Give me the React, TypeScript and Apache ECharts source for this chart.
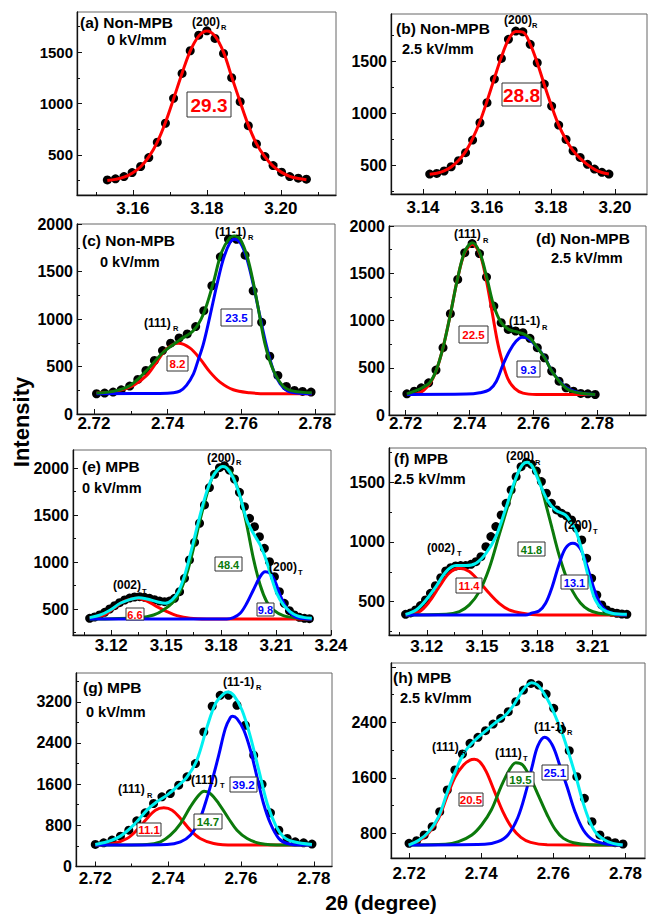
import React, { useEffect, useRef } from "react";
import * as echarts from "echarts";

const FONT = '"Liberation Sans", Arial, Helvetica, sans-serif';
const RED = "#ff0000";
const BLUE = "#0000ff";
const GREEN = "#0b7a0b";
const CYAN = "#00f0f0";

// ---------------- (a) Non-MPB 0 kV/mm ----------------
const aDotX = [3.1531, 3.1553, 3.1576, 3.1598, 3.1621, 3.1643, 3.1666, 3.1688, 3.171, 3.1733, 3.1755, 3.1778, 3.18, 3.1822, 3.1845, 3.1867, 3.189, 3.1912, 3.1934, 3.1957, 3.1979, 3.2002, 3.2024, 3.2047, 3.2069];
const aDotY = [257, 267, 289, 328, 387, 474, 623, 808, 1050, 1293, 1513, 1665, 1707, 1633, 1487, 1251, 1018, 784, 607, 484, 396, 332, 289, 274, 264];
const aFitY = [250, 262, 283, 322, 385, 480, 625, 815, 1045, 1295, 1510, 1655, 1705, 1655, 1500, 1260, 1015, 790, 610, 480, 390, 330, 292, 270, 258];

// ---------------- (b) Non-MPB 2.5 kV/mm ----------------
const bDotX = [3.1421, 3.1443, 3.1466, 3.1488, 3.1511, 3.1533, 3.1555, 3.1578, 3.16, 3.1623, 3.1645, 3.1667, 3.169, 3.1712, 3.1735, 3.1757, 3.1779, 3.1802, 3.1824, 3.1847, 3.1869, 3.1891, 3.1914, 3.1936, 3.1959, 3.1981];
const bDotY = [420, 426, 449, 490, 548, 625, 747, 913, 1106, 1333, 1532, 1715, 1795, 1788, 1667, 1490, 1285, 1074, 891, 753, 644, 580, 513, 468, 436, 420];
const bFitY = [418, 428, 450, 488, 550, 635, 760, 925, 1120, 1340, 1545, 1712, 1790, 1785, 1670, 1490, 1280, 1070, 890, 750, 645, 570, 510, 465, 435, 420];

// ---------------- (c) Non-MPB 0 kV/mm ----------------
const cDotX = [2.7207, 2.7229, 2.7252, 2.7274, 2.7297, 2.7319, 2.7341, 2.7364, 2.7386, 2.7408, 2.7431, 2.7453, 2.7476, 2.7498, 2.752, 2.7543, 2.7565, 2.7587, 2.761, 2.7632, 2.7655, 2.7677, 2.7699, 2.7722, 2.7744, 2.7766, 2.7789];
const cDotY = [213, 220, 231, 255, 294, 364, 458, 563, 668, 745, 801, 843, 920, 1088, 1350, 1654, 1839, 1839, 1672, 1297, 965, 608, 406, 290, 248, 238, 231];
const cRedX = [2.7207, 2.7262, 2.7307, 2.7343, 2.737, 2.7397, 2.7429, 2.746, 2.7488, 2.7515, 2.7542, 2.7578, 2.7623, 2.7669, 2.7791];
const cRedY = [220, 241, 301, 406, 546, 685, 745, 696, 580, 441, 336, 255, 224, 213, 213];
const cBlueX = [2.7207, 2.7379, 2.7415, 2.7433, 2.7451, 2.747, 2.7481, 2.7497, 2.7515, 2.7533, 2.7551, 2.7569, 2.7581, 2.7597, 2.7614, 2.7632, 2.765, 2.7669, 2.7687, 2.7705, 2.7723, 2.775, 2.7791];
const cBlueY = [213, 217, 224, 241, 301, 423, 546, 738, 1035, 1350, 1630, 1804, 1839, 1804, 1647, 1367, 1035, 703, 458, 318, 248, 220, 213];
const cGreenX = [2.7207, 2.7252, 2.7298, 2.7343, 2.7388, 2.7433, 2.747, 2.7497, 2.7524, 2.7546, 2.7569, 2.7581, 2.7597, 2.7619, 2.7642, 2.7664, 2.7687, 2.7714, 2.7741, 2.7791];
const cGreenY = [220, 238, 301, 458, 650, 780, 878, 1053, 1385, 1700, 1857, 1874, 1839, 1612, 1192, 738, 458, 290, 241, 224];

// ---------------- (d) Non-MPB 2.5 kV/mm ----------------
const dDotX = [2.7204, 2.7227, 2.7249, 2.7272, 2.7295, 2.7317, 2.734, 2.7363, 2.7385, 2.7408, 2.7431, 2.7453, 2.7476, 2.7499, 2.7521, 2.7544, 2.7567, 2.7589, 2.7612, 2.7634, 2.7657, 2.768, 2.7702, 2.7725, 2.7748, 2.777, 2.7793];
const dDotY = [224, 252, 288, 341, 475, 712, 1072, 1435, 1718, 1814, 1708, 1460, 1153, 977, 906, 889, 871, 811, 712, 606, 465, 358, 288, 252, 228, 224, 217];
const dRedX = [2.7204, 2.7244, 2.7275, 2.7296, 2.7317, 2.734, 2.7362, 2.7385, 2.7409, 2.7432, 2.7452, 2.7471, 2.7489, 2.7505, 2.752, 2.7541, 2.7567, 2.7609, 2.7793];
const dRedY = [217, 235, 330, 471, 712, 1065, 1435, 1718, 1806, 1708, 1435, 1082, 747, 535, 383, 281, 231, 217, 217];
const dBlueX = [2.7204, 2.739, 2.7432, 2.7463, 2.7484, 2.7505, 2.7525, 2.7546, 2.7564, 2.7583, 2.7612, 2.7636, 2.7657, 2.7682, 2.7703, 2.7726, 2.7755, 2.7793];
const dBlueY = [217, 221, 235, 270, 358, 535, 678, 782, 824, 811, 712, 606, 465, 358, 288, 252, 228, 217];
const dGreenX = [2.7204, 2.7228, 2.7252, 2.7275, 2.7296, 2.7317, 2.734, 2.7362, 2.7385, 2.7409, 2.7432, 2.7454, 2.7476, 2.7499, 2.7522, 2.7546, 2.7567, 2.759, 2.7612, 2.7636, 2.7657, 2.7682, 2.7703, 2.7726, 2.7755, 2.7793];
const dGreenY = [224, 252, 288, 341, 475, 712, 1065, 1435, 1729, 1824, 1718, 1453, 1153, 977, 906, 881, 860, 811, 712, 600, 465, 351, 281, 245, 228, 217];

// ---------------- (e) MPB 0 kV/mm ----------------
const eDotX = [3.1082, 3.1109, 3.1136, 3.1164, 3.1191, 3.1218, 3.1245, 3.1273, 3.13, 3.1327, 3.1355, 3.1382, 3.1409, 3.1436, 3.1464, 3.1491, 3.1518, 3.1545, 3.1573, 3.16, 3.1627, 3.1655, 3.1682, 3.1709, 3.1736, 3.1764, 3.1791, 3.1818, 3.1845, 3.1873, 3.19, 3.1927, 3.1955, 3.1982, 3.2009, 3.2036, 3.2064, 3.2091, 3.2118, 3.2145, 3.2173, 3.22, 3.2227, 3.2255, 3.2282];
const eDotY = [401, 415, 436, 465, 500, 536, 568, 596, 617, 628, 632, 625, 614, 600, 585, 578, 585, 614, 685, 827, 1023, 1211, 1414, 1609, 1794, 1936, 2007, 2028, 1982, 1886, 1744, 1591, 1467, 1378, 1271, 1147, 1005, 845, 685, 561, 482, 436, 411, 401, 397];
const eCyanX = [3.1082, 3.114, 3.1195, 3.1249, 3.1304, 3.1349, 3.1395, 3.1449, 3.1495, 3.1531, 3.1567, 3.1604, 3.164, 3.1676, 3.1713, 3.1749, 3.1785, 3.1809, 3.1831, 3.1867, 3.1904, 3.194, 3.1976, 3.2013, 3.2049, 3.2076, 3.2104, 3.214, 3.2176, 3.2213, 3.2249, 3.2295];
const eCyanY = [408, 436, 490, 561, 603, 621, 607, 578, 561, 596, 685, 880, 1147, 1431, 1698, 1893, 1993, 2018, 2000, 1893, 1698, 1449, 1307, 1183, 1005, 827, 667, 543, 472, 429, 411, 401];
const eRedX = [3.1082, 3.1158, 3.1213, 3.1267, 3.134, 3.1395, 3.1449, 3.1504, 3.1558, 3.1631, 3.1722, 3.2295];
const eRedY = [401, 436, 507, 578, 614, 585, 525, 472, 429, 401, 394, 394];
const eGreenX = [3.1082, 3.1358, 3.1431, 3.1485, 3.154, 3.1576, 3.1613, 3.1649, 3.1685, 3.1722, 3.1758, 3.1795, 3.1809, 3.184, 3.1867, 3.1904, 3.194, 3.1976, 3.2013, 3.2049, 3.2085, 3.214, 3.2231, 3.2295];
const eGreenY = [394, 408, 436, 490, 578, 685, 880, 1147, 1449, 1723, 1929, 2011, 2018, 1993, 1911, 1698, 1396, 1040, 756, 578, 490, 429, 401, 394];
const eBlueX = [3.1082, 3.1831, 3.1867, 3.1904, 3.194, 3.1976, 3.2013, 3.204, 3.2067, 3.2095, 3.2122, 3.2158, 3.2195, 3.2231, 3.2295];
const eBlueY = [394, 394, 408, 454, 561, 703, 845, 898, 880, 791, 649, 507, 429, 401, 394];

// ---------------- (f) MPB 2.5 kV/mm ----------------
const fDotX = [3.1085, 3.1112, 3.1139, 3.1166, 3.1193, 3.122, 3.1247, 3.1276, 3.1303, 3.133, 3.1357, 3.1384, 3.1411, 3.144, 3.1467, 3.1494, 3.1521, 3.1548, 3.1575, 3.1604, 3.1631, 3.1658, 3.1685, 3.1712, 3.1741, 3.1768, 3.1795, 3.1822, 3.1849, 3.1876, 3.1905, 3.1932, 3.1959, 3.1986, 3.2013, 3.2041, 3.2068, 3.2095, 3.2123, 3.215, 3.2177, 3.2205, 3.2232, 3.2259, 3.2286];
const fDotY = [394, 406, 431, 467, 514, 570, 634, 701, 757, 785, 799, 802, 802, 813, 835, 877, 961, 1045, 1129, 1226, 1324, 1436, 1547, 1631, 1668, 1651, 1595, 1506, 1408, 1324, 1268, 1240, 1218, 1184, 1115, 1017, 863, 696, 556, 473, 431, 411, 403, 397, 394];
const fCyanX = [3.1085, 3.1142, 3.1196, 3.125, 3.1305, 3.1359, 3.1413, 3.1467, 3.1521, 3.1575, 3.1629, 3.1683, 3.1719, 3.1746, 3.1773, 3.1809, 3.1854, 3.1899, 3.1953, 3.198, 3.2007, 3.2034, 3.2061, 3.2088, 3.2115, 3.2151, 3.2205, 3.2286];
const fCyanY = [394, 431, 514, 626, 752, 802, 802, 822, 905, 1045, 1282, 1534, 1645, 1668, 1631, 1506, 1352, 1268, 1226, 1171, 1101, 975, 808, 640, 514, 439, 403, 394];
const fRedX = [3.1085, 3.116, 3.1214, 3.1268, 3.1322, 3.1377, 3.1431, 3.1485, 3.1539, 3.1593, 3.1647, 3.1719, 3.1809, 3.2286];
const fRedY = [389, 417, 500, 626, 738, 779, 752, 668, 570, 486, 431, 403, 389, 389];
const fGreenX = [3.1085, 3.1305, 3.1377, 3.1431, 3.1485, 3.1539, 3.1593, 3.1647, 3.1692, 3.1719, 3.1741, 3.1773, 3.1809, 3.1845, 3.1881, 3.1917, 3.1953, 3.1989, 3.2034, 3.2079, 3.2133, 3.2205, 3.2286];
const fGreenY = [389, 394, 417, 473, 584, 780, 1059, 1338, 1561, 1645, 1668, 1640, 1528, 1324, 1109, 897, 724, 595, 489, 431, 403, 394, 389];
const fBlueX = [3.1085, 3.1737, 3.1773, 3.1809, 3.1845, 3.1881, 3.1917, 3.1953, 3.1993, 3.2032, 3.2068, 3.2104, 3.214, 3.2177, 3.2223, 3.2286];
const fBlueY = [389, 389, 406, 422, 487, 626, 808, 947, 989, 947, 808, 626, 487, 422, 397, 389];

// ---------------- (g) MPB 0 kV/mm ----------------
const gDotX = [2.72, 2.7223, 2.7246, 2.7269, 2.7292, 2.7314, 2.7337, 2.736, 2.7383, 2.7406, 2.7429, 2.7452, 2.7475, 2.7498, 2.7521, 2.7543, 2.7566, 2.7589, 2.7612, 2.7635, 2.7658, 2.7681, 2.7704, 2.7727, 2.7749, 2.7772, 2.7795];
const gDotY = [428, 461, 513, 590, 706, 887, 1043, 1224, 1353, 1418, 1580, 1742, 2001, 2615, 3114, 3327, 3327, 3133, 2745, 2163, 1600, 1043, 706, 545, 480, 461, 435];
const gCyanX = [2.72, 2.7232, 2.7269, 2.7305, 2.7342, 2.7369, 2.7397, 2.7424, 2.7452, 2.7479, 2.7507, 2.753, 2.7553, 2.7564, 2.758, 2.7603, 2.7626, 2.7649, 2.7672, 2.7695, 2.7717, 2.7745, 2.7795];
const gCyanY = [428, 480, 590, 803, 1095, 1257, 1386, 1548, 1742, 2066, 2713, 3166, 3360, 3392, 3327, 3036, 2518, 1871, 1224, 803, 577, 480, 428];
const gRedX = [2.72, 2.725, 2.7287, 2.7314, 2.7342, 2.7365, 2.7388, 2.7411, 2.7434, 2.7461, 2.7488, 2.7525, 2.758, 2.7795];
const gRedY = [416, 447, 544, 706, 933, 1095, 1140, 1095, 933, 706, 544, 447, 416, 416];
const gGreenX = [2.72, 2.7342, 2.7379, 2.7406, 2.7434, 2.7461, 2.7484, 2.7499, 2.7516, 2.7539, 2.7566, 2.7589, 2.7617, 2.7653, 2.7717, 2.7795];
const gGreenY = [416, 428, 480, 609, 835, 1159, 1386, 1463, 1418, 1224, 933, 706, 544, 447, 416, 416];
const gBlueX = [2.72, 2.7397, 2.7434, 2.7461, 2.7484, 2.7502, 2.7521, 2.7539, 2.7557, 2.7571, 2.7577, 2.7589, 2.7608, 2.7626, 2.7644, 2.7662, 2.7681, 2.7704, 2.7727, 2.7763, 2.7795];
const gBlueY = [416, 428, 480, 609, 868, 1224, 1677, 2163, 2680, 2894, 2919, 2874, 2648, 2260, 1742, 1224, 836, 544, 447, 416, 416];

// ---------------- (h) MPB 2.5 kV/mm ----------------
const hDotX = [2.72, 2.7221, 2.7242, 2.7264, 2.7285, 2.7306, 2.7327, 2.7348, 2.7369, 2.7391, 2.7412, 2.7433, 2.7454, 2.7475, 2.7496, 2.7517, 2.7538, 2.7559, 2.758, 2.7601, 2.7623, 2.7644, 2.7665, 2.7686, 2.7707, 2.7729, 2.775, 2.7771, 2.7793];
const hDotY = [655, 694, 776, 896, 1112, 1424, 1713, 1943, 2097, 2183, 2279, 2375, 2457, 2553, 2697, 2865, 2961, 2937, 2807, 2601, 2299, 1991, 1616, 1304, 968, 776, 694, 665, 646];
const hCyanX = [2.7199, 2.7228, 2.7255, 2.7282, 2.7305, 2.7328, 2.7355, 2.7383, 2.741, 2.7437, 2.7465, 2.7487, 2.751, 2.7528, 2.754, 2.7556, 2.7574, 2.7592, 2.761, 2.7628, 2.7647, 2.7665, 2.7683, 2.7701, 2.7719, 2.7742, 2.7765, 2.7792];
const hCyanY = [631, 703, 824, 1040, 1376, 1689, 1977, 2145, 2265, 2385, 2491, 2625, 2818, 2938, 2971, 2938, 2818, 2649, 2433, 2193, 1881, 1569, 1232, 968, 800, 704, 655, 631];
const hRedX = [2.7199, 2.7228, 2.7255, 2.7282, 2.7305, 2.7328, 2.7351, 2.7369, 2.7381, 2.7396, 2.7414, 2.7437, 2.746, 2.7483, 2.751, 2.7537, 2.7583, 2.7792];
const hRedY = [631, 694, 809, 1016, 1328, 1616, 1784, 1856, 1866, 1832, 1688, 1400, 1112, 896, 742, 670, 636, 631];
const hGreenX = [2.7199, 2.7301, 2.7337, 2.7374, 2.7401, 2.7428, 2.7455, 2.7478, 2.7496, 2.7515, 2.7537, 2.756, 2.7583, 2.7606, 2.7628, 2.7656, 2.7701, 2.7792];
const hGreenY = [631, 641, 679, 776, 920, 1136, 1472, 1713, 1817, 1784, 1592, 1328, 1064, 848, 727, 665, 636, 631];
const hBlueX = [2.7199, 2.741, 2.7446, 2.7474, 2.7501, 2.7524, 2.7542, 2.7557, 2.7576, 2.7597, 2.7619, 2.7638, 2.766, 2.7683, 2.771, 2.7747, 2.7792];
const hBlueY = [631, 641, 679, 776, 1020, 1400, 1780, 2060, 2183, 2073, 1760, 1472, 1112, 848, 704, 646, 631];

// ---------------- tick values ----------------
const xTicksA = [3.16, 3.18, 3.2];
const xMinorA = [3.15, 3.17, 3.19, 3.21];
const xTicksB = [3.14, 3.16, 3.18, 3.2];
const xMinorB = [3.15, 3.17, 3.19];
const xTicks272 = [2.72, 2.74, 2.76, 2.78];
const xMinor272 = [2.73, 2.75, 2.77, 2.79];
const xTicks312 = [3.12, 3.15, 3.18, 3.21, 3.24];
const xMinor312 = [3.105, 3.135, 3.165, 3.195, 3.225];
const yTicks500 = [500, 1000, 1500];
const yTicks0to2000 = [0, 500, 1000, 1500, 2000];
const yTicks500to2000 = [500, 1000, 1500, 2000];
const yMinor250 = [250, 750, 1250, 1750];
const yTicks800 = [0, 800, 1600, 2400, 3200];
const yLabelsH = [800, 1600, 2400];
const yTicksH = [800, 1600, 2400, 3200];
const yMinor400 = [400, 1200, 2000, 2800, 3600];

type Curve = { x: number[]; y: number[]; color: string; total?: boolean };
type Panel = {
  left: number; top: number; width: number; height: number;
  xMin: number; xMax: number; yMin: number; yMax: number;
  xMajor: number[]; xMinor: number[]; yLabels: number[]; yMajor: number[]; yMinor: number[];
  xMargin: number; yFont: number;
  dotX: number[]; dotY: number[]; curves: Curve[];
};

const panels: Panel[] = [
  { left: 77, top: 12, width: 259, height: 183, xMin: 3.1449, xMax: 3.2149, yMin: 110, yMax: 1890,
    xMajor: xTicksA, xMinor: xMinorA, yLabels: yTicks500, yMajor: yTicks500, yMinor: yMinor250, xMargin: 5, yFont: 15,
    dotX: aDotX, dotY: aDotY, curves: [{ x: aDotX, y: aFitY, color: RED, total: true }] },
  { left: 391, top: 14, width: 256, height: 180, xMin: 3.13, xMax: 3.21, yMin: 228, yMax: 1959,
    xMajor: xTicksB, xMinor: xMinorB, yLabels: yTicks500, yMajor: yTicks500, yMinor: yMinor250, xMargin: 5, yFont: 16,
    dotX: bDotX, dotY: bDotY, curves: [{ x: bDotX, y: bFitY, color: RED, total: true }] },
  { left: 77, top: 224, width: 258, height: 190, xMin: 2.7154, xMax: 2.7854, yMin: 0, yMax: 2000,
    xMajor: xTicks272, xMinor: xMinor272, yLabels: yTicks0to2000, yMajor: yTicks0to2000, yMinor: yMinor250, xMargin: 1, yFont: 16,
    dotX: cDotX, dotY: cDotY,
    curves: [{ x: cRedX, y: cRedY, color: RED }, { x: cBlueX, y: cBlueY, color: BLUE }, { x: cGreenX, y: cGreenY, color: GREEN, total: true }] },
  { left: 389, top: 226, width: 257, height: 189, xMin: 2.7148, xMax: 2.7952, yMin: 0, yMax: 2000,
    xMajor: xTicks272, xMinor: xMinor272, yLabels: yTicks0to2000, yMajor: yTicks0to2000, yMinor: yMinor250, xMargin: 0, yFont: 16,
    dotX: dDotX, dotY: dDotY,
    curves: [{ x: dRedX, y: dRedY, color: RED }, { x: dBlueX, y: dBlueY, color: BLUE }, { x: dGreenX, y: dGreenY, color: GREEN, total: true }] },
  { left: 73, top: 450, width: 258, height: 185, xMin: 3.0991, xMax: 3.24, yMin: 223, yMax: 2195,
    xMajor: xTicks312, xMinor: xMinor312, yLabels: yTicks500to2000, yMajor: yTicks500to2000, yMinor: yMinor250, xMargin: 1.5, yFont: 16,
    dotX: eDotX, dotY: eDotY,
    curves: [{ x: eRedX, y: eRedY, color: RED }, { x: eGreenX, y: eGreenY, color: GREEN }, { x: eBlueX, y: eBlueY, color: BLUE }, { x: eCyanX, y: eCyanY, color: CYAN, total: true }] },
  { left: 389, top: 448, width: 257, height: 187, xMin: 3.0995, xMax: 3.239, yMin: 221, yMax: 1787,
    xMajor: xTicks312, xMinor: xMinor312, yLabels: yTicks500, yMajor: yTicks500, yMinor: yMinor250, xMargin: 3, yFont: 16,
    dotX: fDotX, dotY: fDotY,
    curves: [{ x: fRedX, y: fRedY, color: RED }, { x: fGreenX, y: fGreenY, color: GREEN }, { x: fBlueX, y: fBlueY, color: BLUE }, { x: fCyanX, y: fCyanY, color: CYAN, total: true }] },
  { left: 76, top: 673, width: 256, height: 193.5, xMin: 2.7147, xMax: 2.785, yMin: 0, yMax: 3760,
    xMajor: xTicks272, xMinor: xMinor272, yLabels: yTicks800, yMajor: yTicks800, yMinor: yMinor400, xMargin: 3, yFont: 16,
    dotX: gDotX, dotY: gDotY,
    curves: [{ x: gRedX, y: gRedY, color: RED }, { x: gGreenX, y: gGreenY, color: GREEN }, { x: gBlueX, y: gBlueY, color: BLUE }, { x: gCyanX, y: gCyanY, color: CYAN, total: true }] },
  { left: 391, top: 663, width: 254, height: 195, xMin: 2.715, xMax: 2.7854, yMin: 444, yMax: 3255,
    xMajor: xTicks272, xMinor: xMinor272, yLabels: yLabelsH, yMajor: yTicksH, yMinor: yMinor400, xMargin: 6.5, yFont: 16,
    dotX: hDotX, dotY: hDotY,
    curves: [{ x: hRedX, y: hRedY, color: RED }, { x: hGreenX, y: hGreenY, color: GREEN }, { x: hBlueX, y: hBlueY, color: BLUE }, { x: hCyanX, y: hCyanY, color: CYAN, total: true }] },
];

// annotation texts (left x, centre y, text, size)
const PANEL_TEXT: [number, number, string, number][] = [
  [80, 22, "(a) Non-MPB", 15.5], [107, 40, "0 kV/mm", 14.5],
  [396, 28, "(b) Non-MPB", 15.5], [402, 49, "2.5 kV/mm", 14.5],
  [82, 240, "(c) Non-MPB", 15.5], [100, 262, "0 kV/mm", 14.5],
  [536, 238, "(d) Non-MPB", 15.5], [551, 258, "2.5 kV/mm", 14.5],
  [82, 466, "(e) MPB", 15.5], [82, 488, "0 kV/mm", 14.5],
  [394, 458, "(f) MPB", 15.5], [394, 479, "2.5 kV/mm", 14.5],
  [83, 687, "(g) MPB", 15.5], [86, 712, "0 kV/mm", 14.5],
  [393, 677, "(h) MPB", 15.5], [400, 698, "2.5 kV/mm", 14.5],
];
const PEAKS: [number, number, string, number, number, string][] = [
  [192, 22, "(200)", 221, 27, "R"],
  [504, 20, "(200)", 532, 25, "R"],
  [215, 232, "(11-1)", 248, 237, "R"],
  [144, 323, "(111)", 173, 328, "R"],
  [454, 234, "(111)", 483, 240, "R"],
  [509, 321, "(11-1)", 542, 327, "R"],
  [207, 458, "(200)", 236, 462, "R"],
  [113, 585, "(002)", 142, 591, "T"],
  [269, 567, "(200)", 298, 572, "T"],
  [506, 456, "(200)", 535, 462, "R"],
  [427, 548, "(002)", 457, 553, "T"],
  [564, 525, "(200)", 593, 531, "T"],
  [223, 682, "(11-1)", 256, 687, "R"],
  [118, 789, "(111)", 147, 795, "R"],
  [191, 780, "(111)", 220, 785, "T"],
  [432, 747, "(111)", 461, 752, "R"],
  [495, 753, "(111)", 523, 758, "T"],
  [534, 727, "(11-1)", 567, 732, "R"],
];
const BOXES: [number, number, number, number, string, string, number][] = [
  [187, 92, 231, 117, "29.3", RED, 19],
  [502, 83, 541, 106, "28.8", RED, 19],
  [221, 309, 252, 326, "23.5", BLUE, 11.5],
  [167, 356, 188, 371, "8.2", RED, 11.5],
  [459, 326, 488, 343, "22.5", RED, 11.5],
  [517, 361, 540, 377, "9.3", BLUE, 11.5],
  [215, 557, 242, 571, "48.4", GREEN, 11],
  [126, 608, 144, 620, "6.6", RED, 11],
  [257, 603, 274, 616, "9.8", BLUE, 11],
  [518, 542, 545, 556, "41.8", GREEN, 11],
  [456, 578, 482, 593, "11.4", RED, 11],
  [561, 575, 588, 589, "13.1", BLUE, 11],
  [230, 777, 257, 792, "39.2", BLUE, 11.5],
  [194, 814, 222, 829, "14.7", GREEN, 11.5],
  [137, 823, 161, 836, "11.1", RED, 11.5],
  [542, 765, 568, 780, "25.1", BLUE, 11.5],
  [507, 772, 534, 786, "19.5", GREEN, 11.5],
  [459, 793, 483, 806, "20.5", RED, 11.5],
];

function txt(x: number, y: number, text: string, size: number, color = "#000", align = "left") {
  return {
    type: "text", x, y, z: 100,
    style: {
      text, fill: color, font: `bold ${size}px ${FONT}`,
      textAlign: align, align, textVerticalAlign: "middle", verticalAlign: "middle",
    },
  };
}

function buildOption() {
  const grid: any[] = [];
  const xAxis: any[] = [];
  const yAxis: any[] = [];
  const series: any[] = [];
  panels.forEach((p, i) => {
    grid.push({ left: p.left, top: p.top, width: p.width, height: p.height, show: true, borderColor: "#666", borderWidth: 1 });
    const tickStyle = { color: "#111", width: 1 };
    xAxis.push({
      type: "value", gridIndex: i, min: p.xMin, max: p.xMax, position: "bottom",
      axisLine: { show: true, onZero: false, lineStyle: { color: "#111", width: 1.3 } },
      axisTick: { show: true, inside: true, length: 5, customValues: p.xMajor, lineStyle: tickStyle },
      axisLabel: { show: true, customValues: p.xMajor, formatter: (v: number) => v.toFixed(2), fontSize: 17, fontWeight: "bold", fontFamily: FONT, color: "#000", margin: p.xMargin },
      splitLine: { show: false },
    });
    xAxis.push({
      type: "value", gridIndex: i, min: p.xMin, max: p.xMax, position: "bottom", offset: 0,
      axisLine: { show: false, onZero: false },
      axisTick: { show: true, inside: true, length: 3, customValues: p.xMinor, lineStyle: tickStyle },
      axisLabel: { show: false }, splitLine: { show: false },
    });
    yAxis.push({
      type: "value", gridIndex: i, min: p.yMin, max: p.yMax, position: "left",
      axisLine: { show: true, onZero: false, lineStyle: { color: "#111", width: 1.3 } },
      axisTick: { show: true, inside: true, length: 5, customValues: p.yMajor, lineStyle: tickStyle },
      axisLabel: { show: true, customValues: p.yLabels, formatter: (v: number) => String(Math.round(v)), fontSize: p.yFont, fontWeight: "bold", fontFamily: FONT, color: "#000", margin: 4 },
      splitLine: { show: false },
    });
    yAxis.push({
      type: "value", gridIndex: i, min: p.yMin, max: p.yMax, position: "left", offset: 0,
      axisLine: { show: false, onZero: false },
      axisTick: { show: true, inside: true, length: 3, customValues: p.yMinor, lineStyle: tickStyle },
      axisLabel: { show: false }, splitLine: { show: false },
    });
    series.push({
      type: "scatter", xAxisIndex: i * 2, yAxisIndex: i * 2, symbolSize: 9, z: 2, silent: true,
      itemStyle: { color: "#000", opacity: 1 },
      data: p.dotX.map((x, k) => [x, p.dotY[k]]),
    });
    p.curves.forEach((c) => {
      series.push({
        type: "line", xAxisIndex: i * 2, yAxisIndex: i * 2, z: c.total ? 4 : 3, silent: true,
        smooth: 0.35, showSymbol: false, symbol: "none",
        lineStyle: { color: c.color, width: 3 },
        data: c.x.map((x, k) => [x, c.y[k]]),
      });
    });
  });

  const elements: any[] = [];
  PANEL_TEXT.forEach(([x, y, t, s]) => elements.push(txt(x, y, t, s)));
  PEAKS.forEach(([x, y, t, sx, sy, sub]) => {
    elements.push(txt(x, y, t, 12));
    elements.push(txt(sx, sy, sub, 7.5));
  });
  BOXES.forEach(([x1, y1, x2, y2, t, color, s]) => {
    elements.push({ type: "rect", z: 99, shape: { x: x1, y: y1, width: x2 - x1, height: y2 - y1 }, style: { fill: "#fff", stroke: "#333", lineWidth: 1 } });
    elements.push(txt((x1 + x2) / 2, (y1 + y2) / 2 + 0.5, t, s, color, "center"));
  });
  elements.push({
    type: "text", x: 21, y: 422, rotation: Math.PI / 2, z: 100,
    style: { text: "Intensity", fill: "#000", font: `bold 22px ${FONT}`, textAlign: "center", align: "center", textVerticalAlign: "middle", verticalAlign: "middle" },
  });
  elements.push(txt(381, 902, "2\u03b8 (degree)", 21, "#000", "center"));

  return {
    animation: false,
    backgroundColor: "#fff",
    grid, xAxis, yAxis, series,
    graphic: { elements },
  };
}

export default function App() {
  const ref = useRef<HTMLDivElement>(null);
  useEffect(() => {
    const chart = echarts.init(ref.current!, null, { renderer: "svg" });
    chart.setOption(buildOption() as any);
    return () => chart.dispose();
  }, []);
  return <div ref={ref} style={{ position: "absolute", left: 0, top: 0, width: 666, height: 915, background: "#fff" }} />;
}
